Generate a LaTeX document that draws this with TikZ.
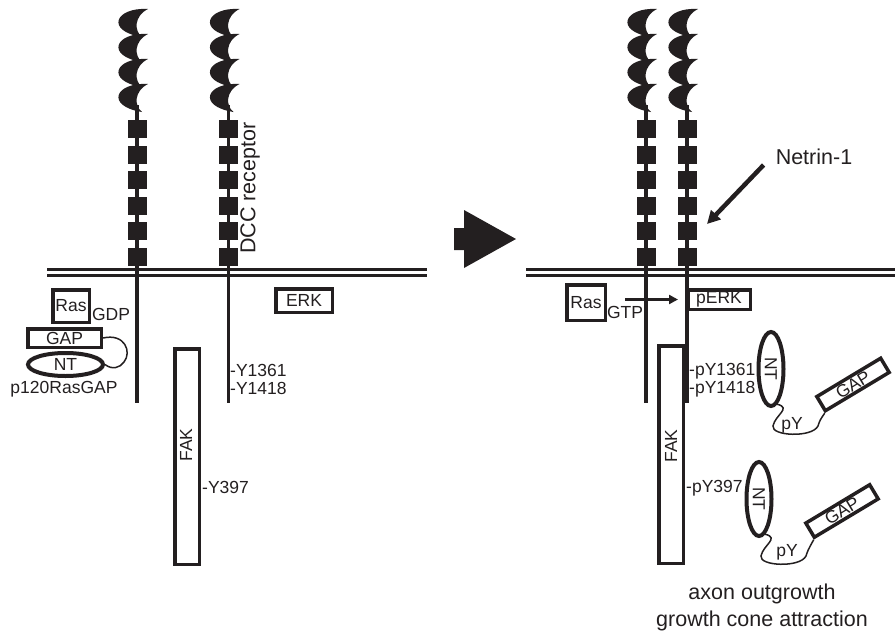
\documentclass[tikz,border=0pt]{standalone}
\usepackage{fontspec}
\setmainfont{Liberation Sans}
\usepackage{tikz}
\usetikzlibrary{arrows.meta,positioning,calc,shapes.geometric}
\definecolor{ink}{HTML}{231F20}

\begin{document}
\begin{tikzpicture}[
    x=1pt, y=-1pt,
    box/.style={draw=ink, line width=3.5pt, inner sep=0pt, text=ink,
                font=\fontsize{17.5}{20}\selectfont},
    oval/.style={ellipse, draw=ink, line width=4pt, inner sep=0pt, text=ink,
                 font=\fontsize{17.5}{20}\selectfont},
    lbl/.style={inner sep=0pt, text=ink, font=\fontsize{17.5}{20}\selectfont},
    big/.style={inner sep=0pt, text=ink, align=center,
                font=\fontsize{21.5}{27}\selectfont},
    stalk/.style={draw=ink, line width=3.5pt},
    tether/.style={draw=ink, line width=1.5pt},
    arrow/.style={draw=ink, line width=2.7pt, -{Triangle[length=9pt,width=9pt]}},
    bigarrow/.style={draw=ink, line width=4.5pt, -{Triangle[length=13pt,width=13pt]}}
  ]
  \useasboundingbox (0,0) rectangle (895,635);

  % Membranes
  \foreach \yy in {269.5,275.5} {
    \draw[ink, line width=3.3pt] (47,\yy) -- (427,\yy);
    \draw[ink, line width=3.3pt] (526,\yy) -- (895,\yy);
  }

  % Receptors: stalk, crescents, square repeats
  \foreach \xx in {137,228.5,646,687} {
    \draw[stalk] (\xx,105) -- (\xx,403);
    \foreach \yy in {9,34,59,84}
      \fill[ink] (\xx+11,\yy) .. controls (\xx-22,\yy-2) and (\xx-32,\yy+22) .. (\xx+5,\yy+28)
                 .. controls (\xx-3,\yy+22) and (\xx-3,\yy+7) .. (\xx+11,\yy) -- cycle;
    \foreach \yy in {129,154.5,180,205.5,231,256.5}
      \fill[ink] (\xx-9.5,\yy-9) rectangle (\xx+9.5,\yy+9);
  }

  % Left panel nodes
  \node[big, rotate=90] (dcc) at (250,188) {DCC receptor};
  \node[box, minimum width=36.5pt, minimum height=32.5pt] (rasL) at (71,306) {Ras};
  \node[lbl] (gdp) at (111,314) {GDP};
  \node[box, minimum width=73.5pt, minimum height=18.5pt] (gapL) at (64.5,338) {GAP};
  \node[oval, minimum width=75pt, minimum height=23pt] (ntL) at (65.5,364.5) {NT};
  \node[lbl] (p120) at (64,389) {p120RasGAP};
  \node[box, minimum width=56.5pt, minimum height=23.5pt] (erk) at (304,300.5) {ERK};
  \node[box, minimum width=24.5pt, minimum height=215.5pt] (fakL) at (187,456.5) {};
  \node[lbl, rotate=90] (fakLtxt) at (186,445) {FAK};
  \node[lbl, anchor=west] (y1361) at (230,370) {-Y1361};
  \node[lbl, anchor=west] (y1418) at (230,388) {-Y1418};
  \node[lbl, anchor=west] (y397) at (202,487) {-Y397};

  % GAP -- NT linker
  \draw[tether] (gapL.east) .. controls (125,333) and (132,352) .. (124,362)
                .. controls (120,368) and (112,370) .. (ntL.east);

  % Transition arrow
  \fill[ink] (454,228) -- (464,228) -- (464,210) -- (516,239)
             -- (464,268) -- (464,250) -- (454,250) -- cycle;

  % Right panel nodes
  \node[big] (netrin) at (814,157) {Netrin-1};
  \coordinate (bind) at (707,224);
  \node[box, minimum width=38.5pt, minimum height=35.5pt] (rasR) at (586,302.5) {Ras};
  \node[lbl] (gtp) at (625,312) {GTP};
  \node[box, minimum width=62.5pt, minimum height=19.5pt] (perk) at (719,299.5) {pERK};
  \coordinate (act) at (625,299.5);
  \node[box, minimum width=24.5pt, minimum height=217.5pt] (fakR) at (671,454.5) {};
  \node[lbl, rotate=90] (fakRtxt) at (671,446) {FAK};
  \node[lbl, anchor=west] (py1361) at (689,371) {-pY1361};
  \node[lbl, anchor=west] (py1418) at (689,389) {-pY1418};
  \node[lbl, anchor=west] (py397) at (686,488) {-pY397};

  \node[oval, rotate=-90, minimum width=74pt, minimum height=25pt] (ntA) at (771,369) {NT};
  \node[box, rotate=31, minimum width=74.5pt, minimum height=16.5pt] (gapA) at (853,384.5) {GAP};
  \node[lbl] (pyA) at (792,425) {pY};
  \node[oval, rotate=-90, minimum width=74pt, minimum height=25pt] (ntB) at (759,499) {NT};
  \node[box, rotate=31, minimum width=74.5pt, minimum height=16.5pt] (gapB) at (842,511) {GAP};
  \node[lbl] (pyB) at (787,552) {pY};

  \node[big] (outcome) at (762,607) {axon outgrowth\\growth cone attraction};

  % Netrin binding
  \draw[bigarrow] ([shift={(-12,8)}]netrin.west) -- (bind);

  % Ras -> pERK
  \draw[arrow, shorten >=8pt] (act) -- (perk.west);

  % NT -- pY -- GAP linkers
  \draw[tether] (ntA.10) .. controls (792,408) and (775,415) .. (773,426)
                .. controls (771,436) and (812,438) .. (818,426)
                .. controls (820,420) .. (gapA.south west);
  \draw[tether] (ntB.10) .. controls (780,538) and (763,545) .. (761,556)
                .. controls (759,566) and (800,568) .. (806,556)
                .. controls (808,550) .. (gapB.south west);
\end{tikzpicture}
\end{document}
